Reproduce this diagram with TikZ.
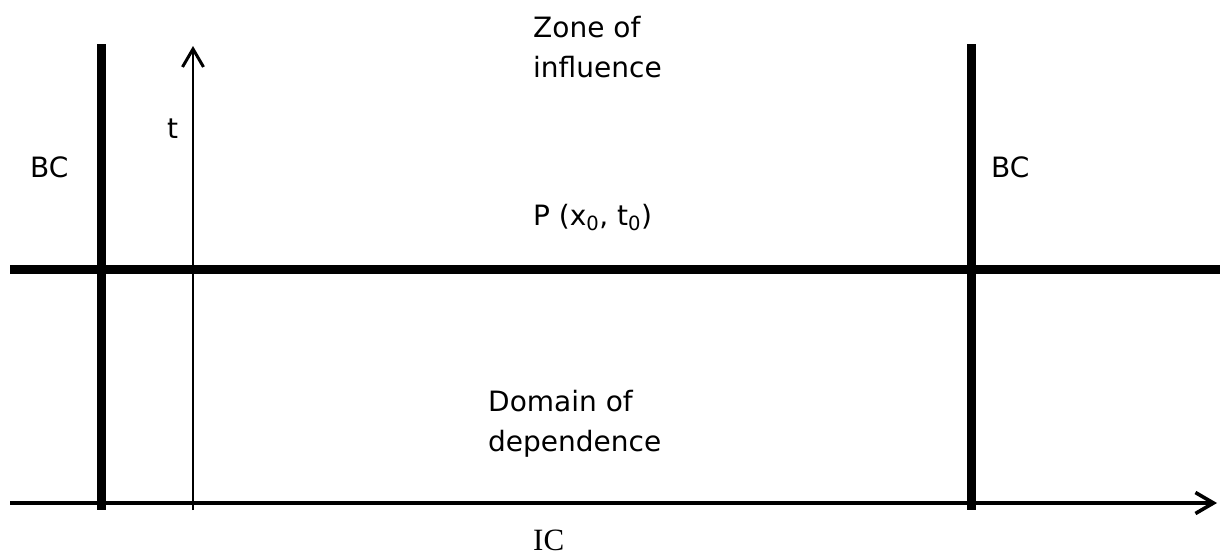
\documentclass[tikz,border=0pt]{standalone}
\usepackage{fontspec}
\setmainfont{DejaVu Sans}
\newfontfamily\icfont{Liberation Serif}
\usetikzlibrary{arrows.meta}
\tikzset{
  lbl/.style={inner sep=0pt, anchor=base west, align=left, font=\fontsize{28}{39.5}\selectfont},
  bcwall/.style={line width=9pt},
  levelline/.style={line width=9pt},
  taxis/.style={line width=2.4pt, -{Straight Barb[length=18pt,width=21pt,line width=3pt]}},
  xaxis/.style={line width=3.6pt, -{Straight Barb[length=18pt,width=21pt,line width=3.6pt]}},
}
\begin{document}
\begin{tikzpicture}[x=1pt,y=-1pt]
\useasboundingbox (0,0) rectangle (1225,555);
% coordinates
\coordinate (bcLtop) at (101.5,44);
\coordinate (bcLbot) at (101.5,510);
\coordinate (bcRtop) at (971.5,44);
\coordinate (bcRbot) at (971.5,510);
\coordinate (lvlL) at (10,269.5);
\coordinate (lvlR) at (1220,269.5);
\coordinate (tbot) at (193,510);
\coordinate (ttop) at (193,46);
\coordinate (xleft) at (10,503);
\coordinate (xright) at (1217,503);
% lines
\draw[levelline] (lvlL) -- (lvlR);
\draw[bcwall] (bcLtop) -- (bcLbot);
\draw[bcwall] (bcRtop) -- (bcRbot);
\draw[taxis] (tbot) -- (ttop);
\draw[xaxis] (xleft) -- (xright);
% labels (multi-line nodes: base = last line's baseline)
\node[lbl] (zone) at (533,77) {Zone of\\influence};
\node[lbl] (tlab) at (167,138) {t};
\node[lbl] (bcl) at (30,177) {BC};
\node[lbl] (bcr) at (991,177) {BC};
\node[lbl] (p) at (533,225) {P (x\textsubscript{0}, t\textsubscript{0})};
\node[lbl] (dom) at (488,451) {Domain of\\dependence};
\node[lbl, font=\icfont\fontsize{31}{36}\selectfont] (ic) at (533,550) {IC};
\end{tikzpicture}
\end{document}
